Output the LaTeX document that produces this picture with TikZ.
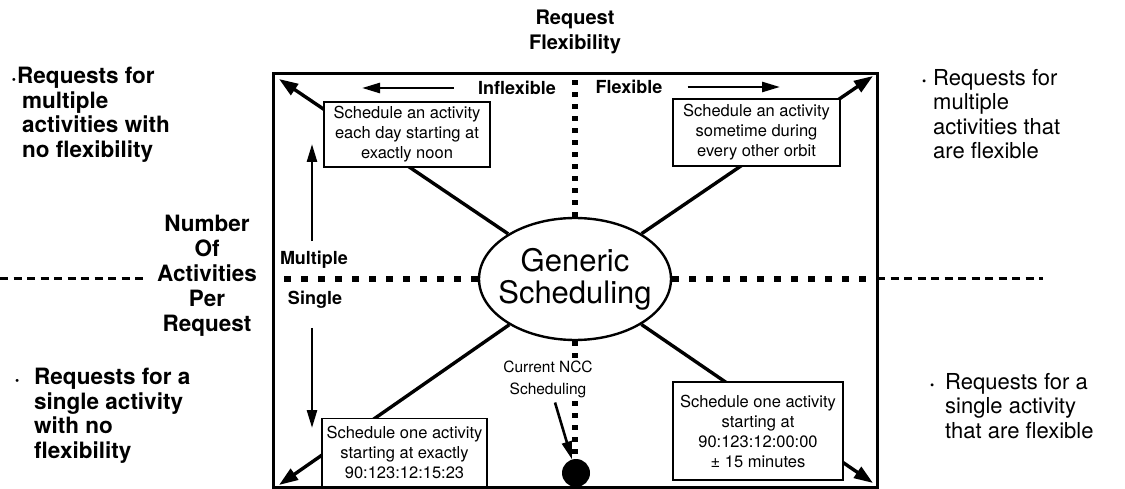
\documentclass[tikz,border=0pt]{standalone}
\usepackage{fontspec}
\setmainfont{TeX Gyre Heros}
\usetikzlibrary{arrows.meta,shapes.geometric}
\tikzset{
  frame/.style={line width=3pt},
  spoke/.style={line width=3.4pt,-{Triangle[length=19pt,width=13pt]}},
  arr/.style={line width=2.6pt,-{Triangle[length=18pt,width=10pt]}},
  quadv/.style={line width=5.5pt,dash pattern=on 5pt off 7pt},
  quadh/.style={line width=6pt,dash pattern=on 7pt off 10pt},
  axis/.style={line width=3pt,dash pattern=on 8pt off 5.5pt},
  case/.style={draw,line width=1.8pt,fill=white,align=center,inner sep=0pt,font=\fontsize{16.5}{20}\selectfont},
  sidebf/.style={align=left,anchor=north west,inner sep=0pt,font=\fontsize{22.5}{24.5}\selectfont\bfseries},
  sidemd/.style={align=left,anchor=north west,inner sep=0pt,font=\fontsize{22}{24.5}\selectfont},
  tag/.style={inner sep=0pt,font=\fontsize{18}{20}\selectfont\bfseries},
}
\newcommand{\dotb}{{\fontsize{12}{12}\selectfont\textbullet}}
\begin{document}
\begin{tikzpicture}[x=1pt,y=-1pt]
  \useasboundingbox (0,0) rectangle (1125,489);
  \coordinate (fNW) at (273,74);
  \coordinate (fSE) at (877,487);
  \coordinate (cTL) at (279,79);
  \coordinate (cTR) at (873,76);
  \coordinate (cBL) at (279,485);
  \coordinate (cBR) at (873,483);
  \coordinate (axL) at (0,279);
  \coordinate (axLe) at (146,279);
  \coordinate (axR) at (1043,279);
  \draw[frame] (fNW) rectangle (fSE);
  \node[ellipse,draw,line width=2.4pt,minimum width=192pt,minimum height=122pt,inner xsep=-10pt,inner ysep=0pt,align=center,font=\fontsize{31}{32}\selectfont] (gen) at (575,279) {Generic\\Scheduling};
  % axes
  \draw[quadv] (gen.north) to (gen.north |- fNW);
  \draw[quadh] (gen.west) to (gen.west -| fNW);
  \draw[quadh] (gen.east) to (gen.east -| fSE);
  \draw[axis] (gen.east -| fSE) to (axR);
  \draw[axis] (axL) to (axLe);
  \node[circle,fill,inner sep=0pt,minimum size=28pt] (ncc) at (576,473) {};
  \draw[quadv] (gen.south) to (gen.south |- ncc.north);
  % spokes to the corners
  \draw[spoke] (gen) to (cTL);
  \draw[spoke] (gen) to (cTR);
  \draw[spoke] (gen) to (cBL);
  \draw[spoke] (gen) to (cBR);
  \node[case,minimum width=166pt,minimum height=65pt] (boxMI) at (407,134.5) {Schedule an activity\\each day starting at\\exactly noon};
  \node[case,minimum width=167pt,minimum height=67pt] (boxMF) at (756.5,132.5) {Schedule an activity\\sometime during\\every other orbit};
  \node[case,minimum width=165pt,minimum height=68pt] (boxSI) at (404.5,452.5) {Schedule one activity\\starting at exactly\\90:123:12:15:23};
  \node[case,minimum width=170pt,minimum height=98pt] (boxSF) at (758,431) {Schedule one activity\\starting at\\90:123:12:00:00\\± 15 minutes};
  % flexibility and number labels
  \node[tag] (infl) at (517,88) {Inflexible};
  \node[tag] (flex) at (629,87) {Flexible};
  \coordinate (inflTip) at (362,88);
  \coordinate (flexTip) at (780,87);
  \draw[arr,shorten <=24pt] (infl.west) to (inflTip);
  \draw[arr,shorten <=25pt] (flex.east) to (flexTip);
  \node[tag] (mult) at (314,260) {Multiple};
  \node[tag] (sing) at (315,300) {Single};
  \coordinate (multTip) at (312,144);
  \coordinate (singTip) at (312,428);
  \draw[arr,shorten <=10pt] (mult.north -| multTip) to (multTip);
  \draw[arr,shorten <=19pt] (sing.south -| singTip) to (singTip);
  \node[fill=white,inner sep=1pt,align=center,font=\fontsize{15.5}{22}\selectfont] (nccTxt) at (548,379) {Current NCC\\Scheduling};
  \draw[arr,shorten <=4pt] (nccTxt) to (ncc);
  % outside texts
  \node[align=center,inner sep=0pt,font=\fontsize{20}{25}\selectfont\bfseries] (title) at (575,32) {Request\\Flexibility};
  \node[align=center,inner sep=0pt,font=\fontsize{22.5}{25}\selectfont\bfseries] (nopr) at (207,276) {Number\\Of\\Activities\\Per\\Request};
  \node[sidebf] (reqMI) at (22,67) {\hspace*{-5pt}\llap{\dotb\hspace{1pt}}Requests for\\multiple\\activities with\\no flexibility};
  \node[sidebf] (reqSI) at (34,368) {\llap{\dotb\hspace{15pt}}Requests for a\\single activity\\with no\\flexibility};
  \node[sidemd] (reqMF) at (933,69) {\llap{\dotb\hspace{7pt}}Requests for\\multiple\\activities that\\are flexible};
  \node[sidemd] (reqSF) at (945,373) {\llap{\dotb\hspace{11pt}}Requests for a\\single activity\\that are flexible};
\end{tikzpicture}
\end{document}
